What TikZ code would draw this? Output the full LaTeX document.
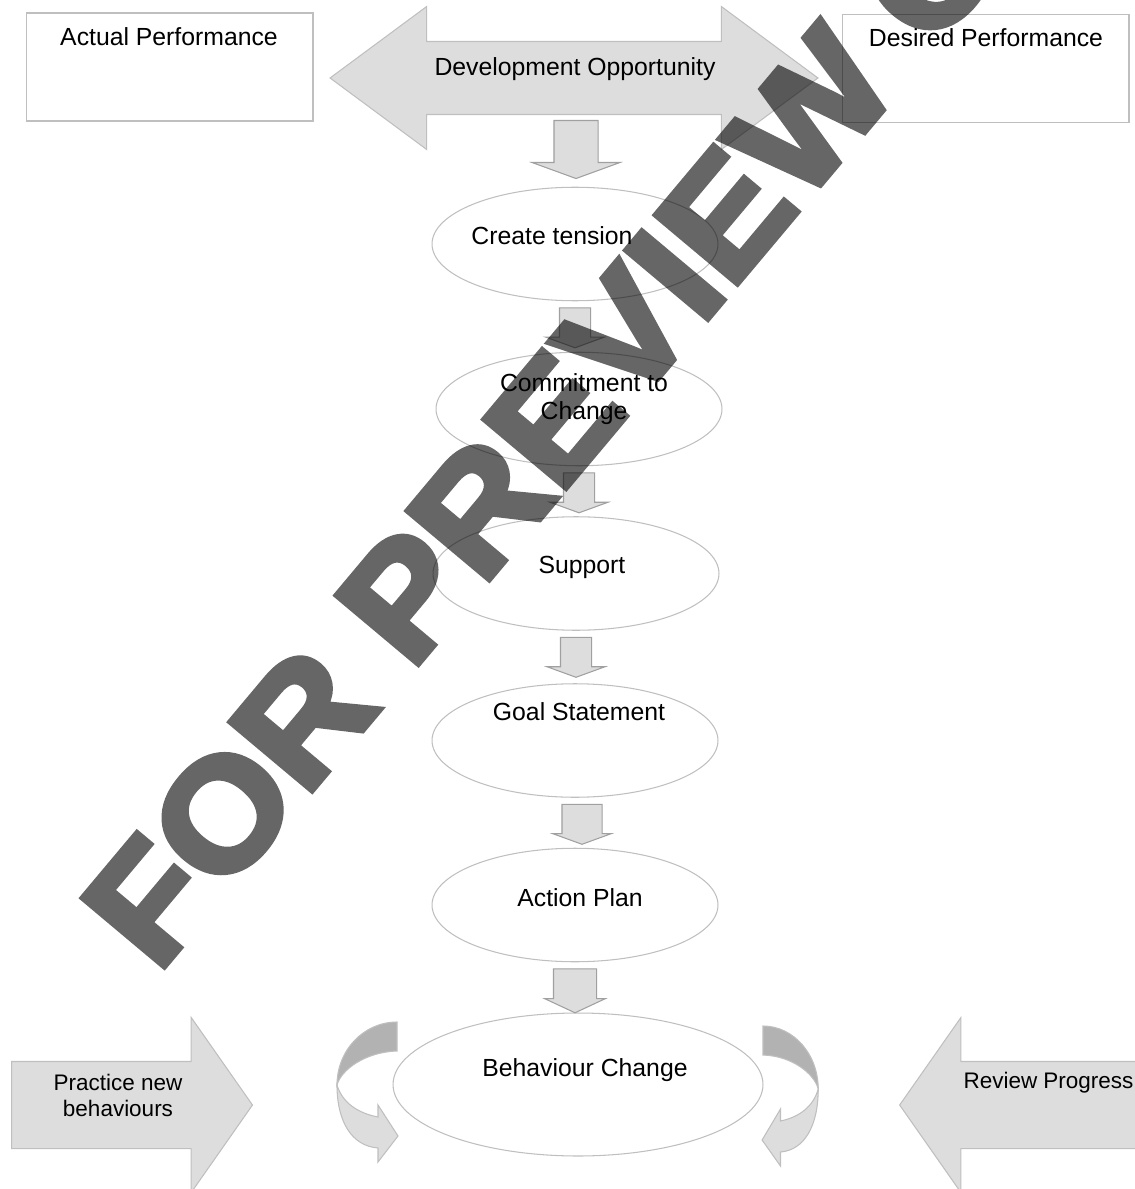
\documentclass[tikz,border=0pt]{standalone}
\usepackage{fontspec}
\setmainfont{Liberation Sans}
\newfontfamily\stampfont[FakeBold=4]{Liberation Sans Bold}
\usetikzlibrary{shapes.geometric, shapes.arrows, positioning}
\definecolor{pale_fill}{RGB}{221,221,221}
\definecolor{pale_line}{RGB}{191,191,191}
\definecolor{mid_line}{RGB}{160,160,160}
\definecolor{band_dark}{RGB}{178,178,178}

\begin{document}
\begin{tikzpicture}[x=0.02cm, y=-0.02cm, line width=0.6pt,
        font=\fontsize{14.1}{15.9}\selectfont,
        box/.style={draw=pale_line, minimum width=5.74cm, minimum height=2.16cm,
                    inner sep=0pt},
        oval/.style={ellipse, draw=pale_line, minimum width=5.72cm,
                     minimum height=2.27cm, inner sep=0pt},
        drop/.style={single arrow, draw=mid_line, fill=pale_fill, rotate=-90,
                     anchor=tail, inner xsep=0pt, inner ysep=0.3cm,
                     single arrow head extend=0.27cm, single arrow tip angle=140,
                     minimum height=0.8cm},
        fat/.style={single arrow, draw=pale_line, fill=pale_fill, inner xsep=0pt,
                    inner ysep=0.86cm, single arrow head extend=0.88cm,
                    single arrow tip angle=110},
        lbl/.style={inner sep=0pt, anchor=base, align=center},
        small/.style={font=\fontsize{12.8}{14.7}\selectfont}]
        \useasboundingbox (0,0) rectangle (1134,1189);
        % Gap row
        \node[box] (actual) at (169.5,67) {};
        \node[box] (desired) at (985.5,68.5) {};
        \node[lbl] (actualtxt) at (169,46) {Actual Performance};
        \node[lbl] (desiredtxt) at (986,47) {Desired Performance};
        \node[double arrow, draw=pale_line, fill=pale_fill, inner xsep=0pt,
          inner ysep=0.72cm, double arrow head extend=0.7cm,
          double arrow tip angle=73, minimum height=9.76cm] (gap) at (574,78) {};
        \node[lbl] (gaptxt) at (575,76) {Development Opportunity};
        % Steps
        \node[oval] (tension) at (575,244) {};
        \node[oval] (commit) at (579,409) {};
        \node[oval] (support) at (576,573.5) {};
        \node[oval] (goal) at (575,740.5) {};
        \node[oval] (plan) at (575,905) {};
        \node[oval, minimum width=7.4cm, minimum height=2.86cm] (change)
          at (578,1084.5) {};
        \node[lbl] (tensiontxt) at (552,245) {Create tension};
        \node[lbl] (committxt) at (584,419) {Commitment to\\Change};
        \node[lbl] (supporttxt) at (582,573) {Support};
        \node[lbl] (goaltxt) at (579,720) {Goal Statement};
        \node[lbl] (plantxt) at (580,906) {Action Plan};
        \node[lbl] (changetxt) at (585,1076) {Behaviour Change};
        % Down arrows
        \node[drop, inner ysep=0.43cm, single arrow head extend=0.44cm,
          minimum height=1.16cm] (d1) at (576,120) {};
        \node[drop] (d2) at ([yshift=-0.12cm]tension.south) {};
        \node[drop] (d3) at ([yshift=-0.12cm]commit.south) {};
        \node[drop] (d4) at ([yshift=-0.12cm]support.south) {};
        \node[drop, inner ysep=0.39cm, single arrow head extend=0.19cm]
          (d5) at ([xshift=0.14cm, yshift=-0.12cm]goal.south) {};
        \node[drop, inner ysep=0.42cm, single arrow head extend=0.18cm,
          single arrow tip angle=130, minimum height=0.88cm]
          (d6) at ([yshift=-0.12cm]plan.south) {};
        % Side arrows
        \node[fat, anchor=tail, minimum height=4.82cm] (practice) at (11,1105) {};
        \node[fat, anchor=tip, rotate=180, minimum height=5.4cm] (review)
          at (899,1105) {};
        \node[lbl, small] (practicetxt) at (118,1116) {Practice new\\behaviours};
        \node[lbl, small, anchor=base west] (reviewtxt) at (963,1088)
          {Review Progress};
        % Loop arrows
        \foreach \ox/\oy/\flip in {397/1022/1, 763/1026/-0.92} {
          \begin{scope}[shift={(\ox,\oy)}, xscale=\flip]
            \filldraw[fill=band_dark, draw=pale_line] (0,0)
              .. controls (-33,0) and (-60,28) .. (-60,63)
              .. controls (-56,48) and (-32,30) .. (0,29) -- cycle;
            \filldraw[fill=pale_fill, draw=pale_line] (-60,63)
              .. controls (-60,100) and (-45,124) .. (-19,126)
              -- (-19,140) -- (1,114) -- (-19,83) -- (-19,95)
              .. controls (-40,91) and (-55,80) .. (-60,63) -- cycle;
          \end{scope}
        }
        % Watermark
        \begin{scope}[transparency group, opacity=0.6]
          \node[rotate=50, xscale=1.07, anchor=base west, inner sep=0pt,
            text=black, font=\stampfont\fontsize{88}{100}\selectfont]
            (stamp) at (157,975) {FOR PREVIEW ONLY};
        \end{scope}
\end{tikzpicture}
\end{document}
